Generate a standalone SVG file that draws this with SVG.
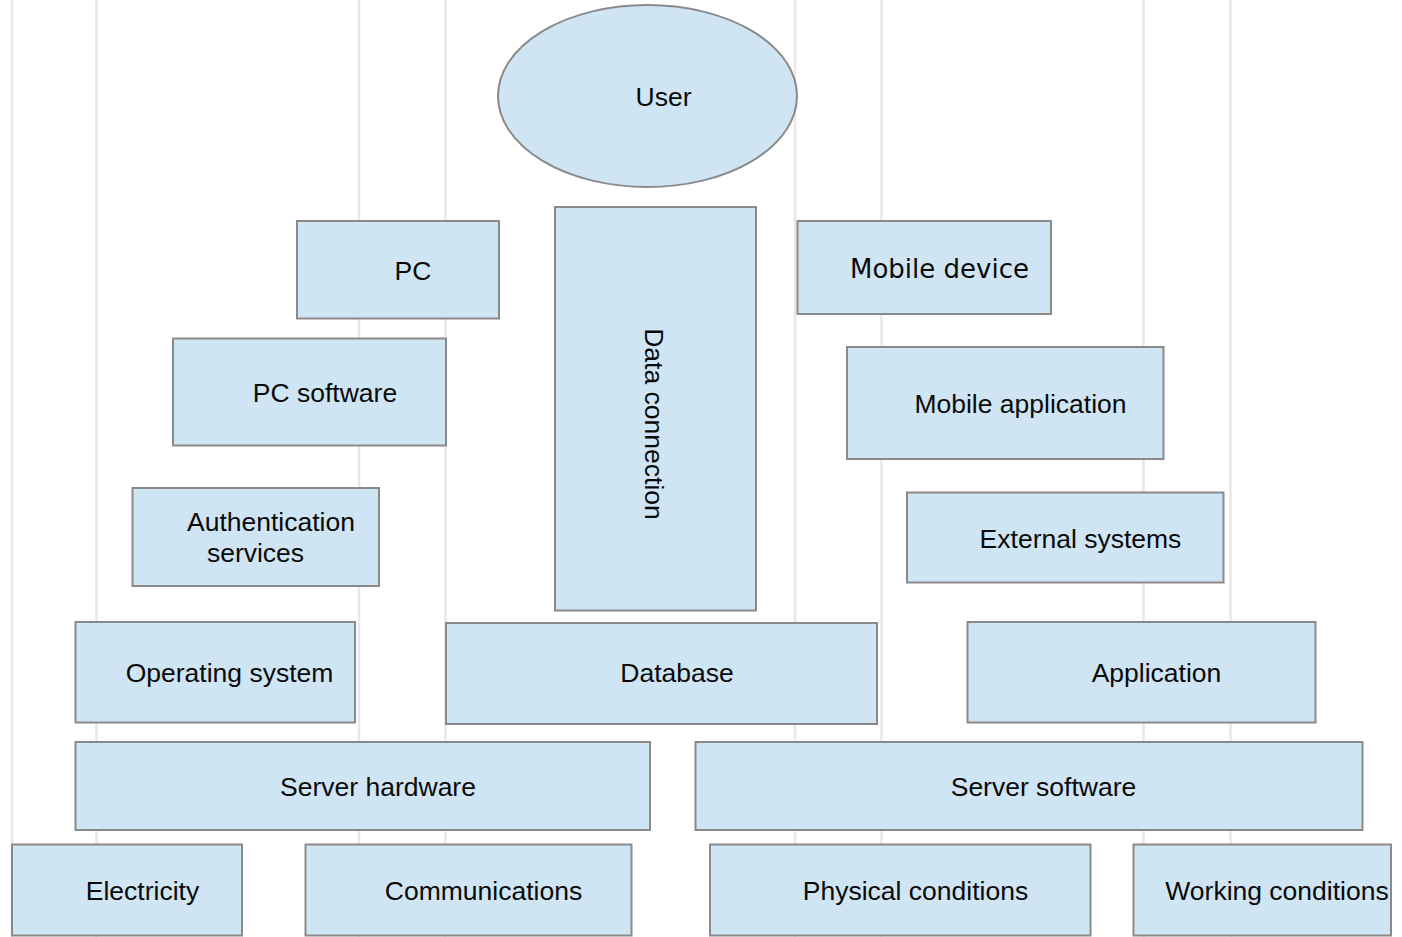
<svg xmlns="http://www.w3.org/2000/svg" width="1402" height="937" viewBox="0 0 1402 937">
  <style>
    .grid { stroke: #e8e8e8; stroke-width: 2.5; fill: none; }
    .box { fill: #cfe5f3; stroke: #8a8a8a; stroke-width: 2; }
    .lbl { font-family: "Liberation Sans", Arial, sans-serif; font-size: 26.5px; fill: #0a0a0a; text-anchor: middle; }
    .lbl-v { font-family: "DejaVu Sans", Verdana, sans-serif; font-size: 26px; fill: #0a0a0a; }
  </style>

  <rect x="0" y="0" width="1402" height="937" fill="#ffffff"/>

  <!-- background column guides -->
  <g id="guides">
    <line class="grid" x1="12" y1="0" x2="12" y2="937"/>
    <line class="grid" x1="96.5" y1="0" x2="96.5" y2="937"/>
    <line class="grid" x1="359" y1="0" x2="359" y2="937"/>
    <line class="grid" x1="445.5" y1="0" x2="445.5" y2="937"/>
    <line class="grid" x1="795" y1="0" x2="795" y2="937"/>
    <line class="grid" x1="881.5" y1="0" x2="881.5" y2="937"/>
    <line class="grid" x1="1143.5" y1="0" x2="1143.5" y2="937"/>
    <line class="grid" x1="1230.5" y1="0" x2="1230.5" y2="937"/>
  </g>

  <g id="user">
    <ellipse class="box" cx="647.5" cy="96" rx="149.5" ry="91"/>
    <text class="lbl" x="663.5" y="105.5">User</text>
  </g>

  <g id="pc">
    <rect class="box" x="297" y="221" width="202" height="97.5"/>
    <text class="lbl" x="413" y="280">PC</text>
  </g>

  <g id="data-connection">
    <rect class="box" x="555" y="207" width="201" height="403.5"/>
    <text class="lbl" transform="translate(644.5,424) rotate(90)" x="0" y="0">Data connection</text>
  </g>

  <g id="mobile-device">
    <rect class="box" x="797.5" y="221" width="253.5" height="93"/>
    <text class="lbl-v" x="850" y="278">Mobile device</text>
  </g>

  <g id="pc-software">
    <rect class="box" x="173" y="338.5" width="273" height="107"/>
    <text class="lbl" x="325" y="401.5">PC software</text>
  </g>

  <g id="mobile-application">
    <rect class="box" x="847" y="347" width="316.5" height="112"/>
    <text class="lbl" x="1020.5" y="412.5">Mobile application</text>
  </g>

  <g id="authentication-services">
    <rect class="box" x="132.5" y="488" width="246.5" height="98"/>
    <text class="lbl" x="271" y="531">Authentication</text>
    <text class="lbl" x="255.5" y="562">services</text>
  </g>

  <g id="external-systems">
    <rect class="box" x="907" y="492.5" width="316.5" height="90"/>
    <text class="lbl" x="1080.5" y="547.5">External systems</text>
  </g>

  <g id="operating-system">
    <rect class="box" x="75.5" y="622" width="279.5" height="100.5"/>
    <text class="lbl" x="229.5" y="681.5">Operating system</text>
  </g>

  <g id="database">
    <rect class="box" x="446" y="623" width="431" height="101"/>
    <text class="lbl" x="677" y="682">Database</text>
  </g>

  <g id="application">
    <rect class="box" x="967.5" y="622" width="348" height="100.5"/>
    <text class="lbl" x="1156.5" y="681.5">Application</text>
  </g>

  <g id="server-hardware">
    <rect class="box" x="75.5" y="742" width="574.5" height="88"/>
    <text class="lbl" x="378" y="796">Server hardware</text>
  </g>

  <g id="server-software">
    <rect class="box" x="695.5" y="742" width="667" height="88"/>
    <text class="lbl" x="1043.5" y="796">Server software</text>
  </g>

  <g id="electricity">
    <rect class="box" x="12" y="844.5" width="230" height="91"/>
    <text class="lbl" x="142.5" y="900">Electricity</text>
  </g>

  <g id="communications">
    <rect class="box" x="305.5" y="844.5" width="326" height="91"/>
    <text class="lbl" x="483.5" y="900">Communications</text>
  </g>

  <g id="physical-conditions">
    <rect class="box" x="710" y="844.5" width="380.5" height="91"/>
    <text class="lbl" x="915.5" y="900">Physical conditions</text>
  </g>

  <g id="working-conditions">
    <rect class="box" x="1133.5" y="844.5" width="257.5" height="91"/>
    <text class="lbl" x="1277" y="900">Working conditions</text>
  </g>
</svg>
